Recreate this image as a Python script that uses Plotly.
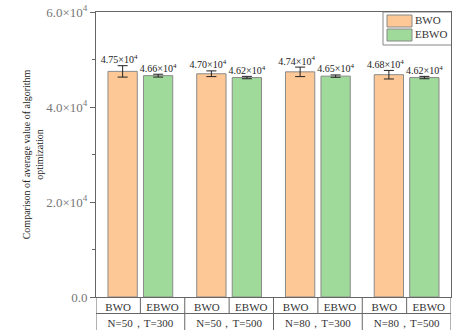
import plotly.graph_objects as go

groups = ["N=50，T=300", "N=50，T=500", "N=80，T=300", "N=80，T=500"]
algos = ["BWO", "EBWO"]
bwo_vals = [47500, 47000, 47400, 46800]
ebwo_vals = [46600, 46200, 46500, 46200]
bwo_err = [1200, 600, 1000, 900]
ebwo_err = [300, 250, 250, 250]
ytick_vals = [0, 20000, 40000, 60000]
ytick_text = ["0.0", "2.0×10<sup>4</sup>", "4.0×10<sup>4</sup>", "6.0×10<sup>4</sup>"]
colors = ["#FDC896", "#9FDA9B"]

serif = "Liberation Serif, DejaVu Serif, serif"
W, H, L, R, T, B = 457, 330, 96, 6, 12, 17
X0, X1, YMAX = -0.5, 3.5, 60000
pw = W - L - R
paper_h = H - T - B          # paper spans y=12..313 px
plot_bottom = 297            # pixel row of the y=0 axis
ydom0 = (H - B - plot_bottom) / paper_h
ph = plot_bottom - T


def px_x(p):        # pixel -> x data
    return X0 + (p - L) / pw * (X1 - X0)


def px_yd(p):       # pixel -> y data
    return (plot_bottom - p) / ph * YMAX


def px_yp(p):       # pixel -> paper y
    return (H - B - p) / paper_h


fig = go.Figure()
idx = list(range(len(groups)))
series = [(algos[0], bwo_vals, bwo_err, colors[0], -0.2),
          (algos[1], ebwo_vals, ebwo_err, colors[1], 0.2)]
for name, vals, err, col, off in series:
    xs = [i + off for i in idx]
    fig.add_trace(go.Bar(
        x=xs, y=vals, width=0.33, name=name, showlegend=False,
        marker=dict(color=col, line=dict(color="#8a8a8a", width=1)),
        error_y=dict(type="data", array=err, color="#222", thickness=1, width=5),
    ))
    fig.add_trace(go.Scatter(
        x=[x - (0.04 if off < 0 else 0) for x in xs], y=[v + e for v, e in zip(vals, err)],
        mode="text", text=[f"{v/10000:.2f}×10<sup>4</sup>" for v in vals],
        textposition="top center", cliponaxis=False, showlegend=False, hoverinfo="skip",
        textfont=dict(family=serif, size=10, color="#222"),
    ))

# legend box (top right)
fig.add_shape(type="rect", xref="x", yref="y", x0=px_x(383), x1=px_x(452), layer="below",
              y0=px_yd(45), y1=px_yd(12), line=dict(color="#888", width=1), fillcolor="white")
leg_x, leg_y = [], []
for k, c in enumerate(colors):
    top = 15 + k * 14
    fig.add_shape(type="rect", xref="x", yref="y", x0=px_x(387), x1=px_x(412), layer="below",
                  y0=px_yd(top + 12), y1=px_yd(top), line=dict(color="#888", width=1), fillcolor=c)
    leg_x.append(px_x(415))
    leg_y.append(px_yd(top + 6))
fig.add_trace(go.Scatter(x=leg_x, y=leg_y, mode="text", text=algos, textposition="middle right",
                         cliponaxis=False, showlegend=False, hoverinfo="skip",
                         textfont=dict(family=serif, size=11, color="#333")))

# category table lines below the plot
line = dict(color="#666", width=1)
for k in range(9):
    xb = X0 + k * 0.5
    y_low = px_yp(H) if k % 2 == 0 else 0
    fig.add_shape(type="line", xref="x", yref="paper", x0=xb, x1=xb, y0=ydom0, y1=y_low, line=line)

col_centers = [i + off for i in idx for off in (-0.25, 0.25)]
fig.update_layout(
    width=W, height=H,
    margin=dict(l=L, r=R, t=T, b=B, autoexpand=False),
    plot_bgcolor="white", paper_bgcolor="white",
    showlegend=False,
    xaxis=dict(range=[X0, X1], tickvals=col_centers, ticktext=algos * len(groups), ticks="",
               tickfont=dict(family=serif, size=11, color="#333"), showgrid=False,
               zeroline=False, showline=True, linecolor="#666", mirror=True, anchor="y"),
    xaxis2=dict(range=[X0, X1], overlaying="x", anchor="free", position=0, side="bottom",
                tickvals=idx, ticktext=groups, ticks="", showgrid=False, zeroline=False,
                tickfont=dict(family=serif, size=11, color="#333"),
                showline=True, linecolor="#666"),
    yaxis=dict(domain=[ydom0, 1], range=[0, YMAX], tickvals=ytick_vals, ticktext=ytick_text,
               ticks="outside", ticklen=5, tickcolor="#666", showgrid=False, zeroline=False,
               showline=True, linecolor="#666", mirror=True,
               minor=dict(tickvals=[10000, 30000, 50000], ticks="outside", ticklen=3, tickcolor="#666"),
               tickfont=dict(family=serif, size=13, color="#777"),
               title=dict(text="Comparison of average value of algorithm<br>optimization",
                          font=dict(family=serif, size=10, color="#222"), standoff=0)),
)
# invisible trace to activate the second x axis
fig.add_trace(go.Scatter(x=[X0], y=[0], xaxis="x2", mode="markers", marker=dict(opacity=0),
                         showlegend=False, hoverinfo="skip"))
fig.write_html("out.html", config={"displayModeBar": False},
               post_script="document.body.style.margin='0';")
